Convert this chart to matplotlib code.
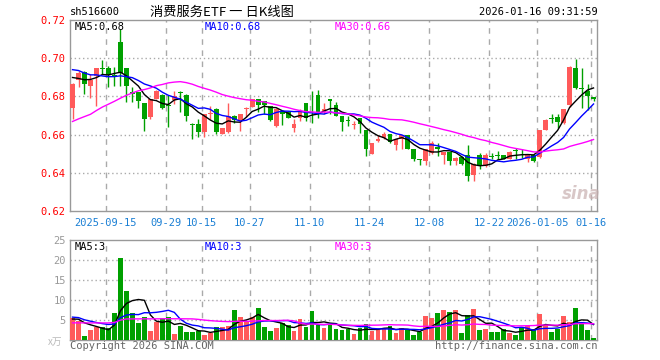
import matplotlib
matplotlib.use("Agg")
import matplotlib.pyplot as plt
import numpy as np
import pandas as pd

plt.rcParams['font.family'] = ['DejaVu Sans Mono', 'Noto Sans CJK SC']

# 日K数据: 2025-09-05 .. 2026-01-16 (88个交易日)
opens = [0.6737, 0.6888, 0.6930, 0.6856, 0.6905, 0.6950, 0.6947, 0.6912, 0.7085, 0.6947,
         0.6825, 0.6821, 0.6765, 0.6690, 0.6786, 0.6807, 0.6752, 0.6782, 0.6823, 0.6807,
         0.6655, 0.6654, 0.6614, 0.6707, 0.6733, 0.6602, 0.6614, 0.6698, 0.6672, 0.6735,
         0.6746, 0.6786, 0.6775, 0.6751, 0.6646, 0.6725, 0.6716, 0.6633, 0.6689, 0.6765,
         0.6765, 0.6807, 0.6716, 0.6786, 0.6754, 0.6698, 0.6674, 0.6651, 0.6688, 0.6625,
         0.6500, 0.6567, 0.6581, 0.6602, 0.6544, 0.6579, 0.6600, 0.6526, 0.6474, 0.6461,
         0.6505, 0.6537, 0.6491, 0.6509, 0.6461, 0.6482, 0.6491, 0.6391, 0.6491, 0.6435,
         0.6484, 0.6488, 0.6491, 0.6470, 0.6514, 0.6498, 0.6470, 0.6491, 0.6484, 0.6625,
         0.6682, 0.6690, 0.6660, 0.6754, 0.6947, 0.6842, 0.6830, 0.6795]
highs = [0.6868, 0.6935, 0.6932, 0.6918, 0.6951, 0.6990, 0.6961, 0.6953, 0.7154, 0.6947,
         0.6847, 0.6821, 0.6765, 0.6786, 0.6833, 0.6812, 0.6807, 0.6830, 0.6830, 0.6812,
         0.6663, 0.6684, 0.6707, 0.6751, 0.6737, 0.6632, 0.6763, 0.6702, 0.6707, 0.6747,
         0.6786, 0.6786, 0.6778, 0.6751, 0.6737, 0.6725, 0.6725, 0.6684, 0.6733, 0.6765,
         0.6830, 0.6835, 0.6765, 0.6786, 0.6772, 0.6698, 0.6698, 0.6672, 0.6688, 0.6625,
         0.6558, 0.6597, 0.6614, 0.6602, 0.6579, 0.6600, 0.6600, 0.6526, 0.6474, 0.6526,
         0.6567, 0.6558, 0.6509, 0.6509, 0.6484, 0.6488, 0.6544, 0.6453, 0.6502, 0.6502,
         0.6502, 0.6514, 0.6491, 0.6514, 0.6532, 0.6526, 0.6491, 0.6491, 0.6625, 0.6684,
         0.6707, 0.6707, 0.6733, 0.6961, 0.6996, 0.6947, 0.6865, 0.6795]
lows = [0.6684, 0.6848, 0.6812, 0.6790, 0.6751, 0.6915, 0.6851, 0.6853, 0.6853, 0.6772,
        0.6772, 0.6737, 0.6619, 0.6681, 0.6786, 0.6735, 0.6642, 0.6760, 0.6716, 0.6672,
        0.6579, 0.6590, 0.6590, 0.6681, 0.6602, 0.6602, 0.6607, 0.6663, 0.6619, 0.6690,
        0.6746, 0.6716, 0.6707, 0.6672, 0.6640, 0.6651, 0.6686, 0.6616, 0.6672, 0.6672,
        0.6663, 0.6689, 0.6707, 0.6707, 0.6695, 0.6619, 0.6646, 0.6628, 0.6607, 0.6488,
        0.6500, 0.6561, 0.6575, 0.6558, 0.6519, 0.6526, 0.6524, 0.6461, 0.6439, 0.6439,
        0.6500, 0.6488, 0.6444, 0.6439, 0.6439, 0.6440, 0.6356, 0.6356, 0.6421, 0.6432,
        0.6470, 0.6470, 0.6470, 0.6470, 0.6470, 0.6479, 0.6456, 0.6456, 0.6479, 0.6625,
        0.6660, 0.6632, 0.6655, 0.6747, 0.6839, 0.6737, 0.6730, 0.6777]
closes = [0.6865, 0.6925, 0.6866, 0.6888, 0.6949, 0.6946, 0.6912, 0.6906, 0.6920, 0.6856,
          0.6812, 0.6777, 0.6684, 0.6786, 0.6830, 0.6737, 0.6749, 0.6804, 0.6820, 0.6698,
          0.6652, 0.6614, 0.6707, 0.6712, 0.6614, 0.6632, 0.6695, 0.6677, 0.6707, 0.6740,
          0.6786, 0.6756, 0.6756, 0.6675, 0.6733, 0.6707, 0.6689, 0.6654, 0.6716, 0.6689,
          0.6763, 0.6716, 0.6733, 0.6777, 0.6695, 0.6668, 0.6670, 0.6654, 0.6654, 0.6526,
          0.6558, 0.6579, 0.6602, 0.6561, 0.6579, 0.6600, 0.6526, 0.6474, 0.6465, 0.6526,
          0.6554, 0.6526, 0.6509, 0.6461, 0.6479, 0.6444, 0.6383, 0.6444, 0.6435, 0.6491,
          0.6481, 0.6486, 0.6470, 0.6509, 0.6512, 0.6496, 0.6491, 0.6461, 0.6625, 0.6677,
          0.6680, 0.6667, 0.6733, 0.6953, 0.6842, 0.6840, 0.6800, 0.6786]
# 成交量, 万手
volumes = [5.4, 4.8, 1.0, 2.5, 3.2, 3.2, 2.9, 6.8, 20.5, 12.25,
           6.8, 4.3, 5.8, 2.25, 4.4, 5.4, 5.8, 1.6, 3.5, 2.1,
           2.1, 2.25, 1.25, 1.8, 3.3, 3.3, 3.6, 7.5, 5.8, 4.8,
           5.8, 8.1, 3.3, 2.25, 3.1, 4.2, 3.75, 2.3, 5.25, 3.3,
           7.25, 3.75, 3.1, 3.7, 2.7, 2.5, 2.7, 1.4, 2.9, 3.9,
           2.25, 2.8, 2.8, 3.4, 1.7, 3.1, 2.4, 1.25, 2.0, 6.0,
           5.4, 6.7, 7.5, 7.0, 7.5, 1.75, 6.25, 7.7, 2.4, 2.75,
           2.0, 2.0, 2.7, 1.75, 1.25, 3.1, 3.5, 2.7, 6.4, 3.7,
           2.0, 2.8, 6.0, 4.5, 7.9, 3.9, 2.5, 0.5]

# 窗口之前29个交易日(估计), 只用来让均线从第一根K线开始
prev_closes = [0.652, 0.650, 0.653, 0.635, 0.640, 0.647, 0.645, 0.643, 0.640, 0.645,
               0.643, 0.650, 0.653, 0.647, 0.655, 0.650, 0.668, 0.675, 0.685, 0.690,
               0.697, 0.700, 0.698, 0.695, 0.7005, 0.695, 0.690, 0.688, 0.690]
prev_volumes = [4.5, 1.5, 2.8, 3.0, 3.3, 3.0, 3.0, 3.5, 3.2, 6.5,
                4.0, 5.5, 2.5, 4.0, 5.0, 5.5, 2.0, 3.5, 2.5, 2.5,
                6.0, 6.5, 6.0, 6.5, 6.0, 5.0, 5.5, 5.0, 5.3]

tick_pos = [6, 16, 22, 30, 40, 50, 60, 70, 78, 87]
tick_labels = ["2025-09-15", "09-29", "10-15", "10-27", "11-10", "11-24",
               "12-08", "12-22", "2026-01-05", "01-16"]

price_labels = ["MA5:0.68", "MA10:0.68", "MA30:0.66"]
vol_labels = ["MA5:3", "MA10:3", "MA30:3"]

RED = '#ff5a5a'
GREEN = '#00a000'
GRID = '#aaaaaa'
W, H = 660, 360


def ma(prev, vals, n):
    s = pd.Series(list(prev) + list(vals))
    return s.rolling(n).mean().iloc[len(prev):].values


o = np.array(opens)
h = np.array(highs)
l = np.array(lows)
c = np.array(closes)
v = np.array(volumes)
n = len(c)
x = np.arange(n) + 0.42
up = c >= o
cols = np.where(up, RED, GREEN)

fig = plt.figure(figsize=(6.6, 3.6), dpi=100)
ax = fig.add_axes([70 / W, 1 - 211 / H, 527 / W, 191 / H])
axv = fig.add_axes([70 / W, 1 - 340 / H, 527 / W, 100 / H])

# K线
ax.vlines(x, l, h, colors=cols, linewidth=1, zorder=3)
body_lo = np.minimum(o, c)
body_h = np.maximum(np.abs(c - o), 0.0005)
ax.bar(x, body_h, bottom=body_lo, width=0.8, color=cols, linewidth=0, zorder=3)

for n_ma, col in [(5, 'black'), (10, '#0000ff'), (30, '#ff00ff')]:
    ax.plot(x, ma(prev_closes, c, n_ma), color=col, linewidth=1, zorder=4)

ax.set_xlim(0, 88)
ax.set_ylim(0.62, 0.72)
ax.set_yticks([0.62, 0.64, 0.66, 0.68, 0.70, 0.72])
ax.set_yticklabels(["%.2f" % t for t in [0.62, 0.64, 0.66, 0.68, 0.70, 0.72]],
                   color='red', fontsize=7.5)
for yy in [0.64, 0.66, 0.68, 0.70]:
    ax.axhline(yy, color=GRID, linestyle=(0, (1, 2)), linewidth=1, zorder=1)
for p in tick_pos:
    ax.axvline(p, color=GRID, linestyle=(0, (4, 4)), linewidth=1, zorder=1)
ax.set_xticks(tick_pos)
ax.set_xticklabels(tick_labels, color='#1a7fd4', fontsize=7.5)
ax.tick_params(axis='y', length=0, pad=3)
ax.tick_params(axis='x', length=0, pad=5)

# 成交量
axv.bar(x, v, width=0.8, color=cols, linewidth=0, zorder=3)
for n_ma, col in [(5, 'black'), (10, '#0000ff'), (30, '#ff00ff')]:
    axv.plot(x, ma(prev_volumes, v, n_ma), color=col, linewidth=1, zorder=4)
axv.set_xlim(0, 88)
axv.set_ylim(0, 25)
axv.set_yticks([5, 10, 15, 20, 25])
axv.set_yticklabels(["5", "10", "15", "20", "25"], color='#999999', fontsize=7.5)
for yy in [5, 10, 15, 20]:
    axv.axhline(yy, color=GRID, linestyle=(0, (1, 2)), linewidth=1, zorder=1)
for p in tick_pos:
    axv.axvline(p, color=GRID, linestyle=(0, (4, 4)), linewidth=1, zorder=1)
axv.set_xticks([])
axv.tick_params(length=0, pad=3)

for a in (ax, axv):
    for s in a.spines.values():
        s.set_color('#999999')
        s.set_linewidth(1)

# 均线标签
for lbl, px, col in zip(price_labels, [75, 205, 335], ['black', '#0000ff', '#ff00ff']):
    fig.text(px / W, 1 - 27 / H, lbl, color=col, fontsize=7.5, va='center')
for lbl, px, col in zip(vol_labels, [75, 205, 335], ['black', '#0000ff', '#ff00ff']):
    fig.text(px / W, 1 - 247 / H, lbl, color=col, fontsize=7.5, va='center')

# 标题
fig.text(70 / W, 1 - 12 / H, "sh516600", fontsize=7.5, va='center')
fig.text(150 / W, 1 - 12 / H, "消费服务ETF 一 日K线图", fontsize=9.5, va='center',
         family=['Noto Sans CJK SC', 'DejaVu Sans'])
fig.text(598 / W, 1 - 12 / H, "2026-01-16 09:31:59", fontsize=7.5, va='center', ha='right')

fig.text(48 / W, 1 - 342 / H, "x万", fontsize=7, color='#bbbbbb', va='center',
         family=['Noto Sans CJK SC', 'DejaVu Sans'], style='italic')
fig.text(70 / W, 1 - 346 / H, "Copyright 2026 SINA.COM", fontsize=7.5, color='#666666', va='center')
fig.text(597 / W, 1 - 346 / H, "http://finance.sina.com.cn", fontsize=7.5, color='#666666',
         va='center', ha='right')
fig.text(581 / W, 1 - 194 / H, "sina", fontsize=12, color='#c8b0b0', alpha=0.7,
         va='center', ha='center', style='italic', weight='bold', family='DejaVu Sans')

fig.savefig("out.png", dpi=100)
